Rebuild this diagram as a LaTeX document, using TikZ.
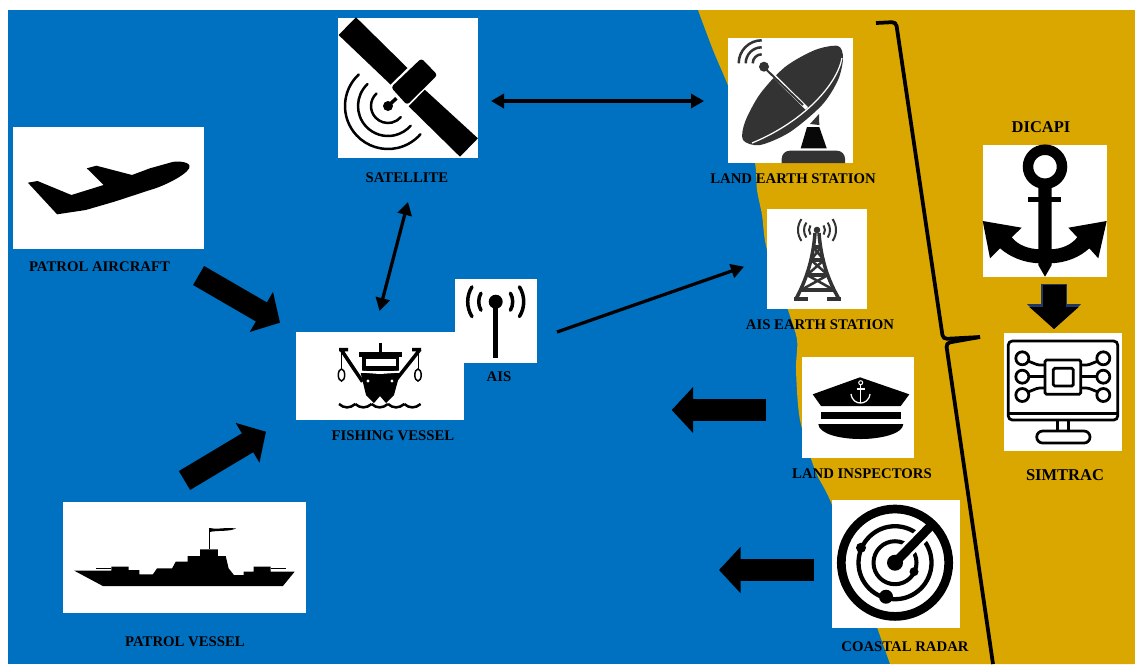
\documentclass[tikz,border=0pt]{standalone}
\usepackage{fontspec}
\setmainfont{Liberation Serif}
\usepackage{tikz}
\usetikzlibrary{calc,arrows.meta}
\definecolor{seablue}{HTML}{0070C0}
\definecolor{landgold}{HTML}{DAA700}
\definecolor{dishgray}{HTML}{333333}
\definecolor{arrownavy}{HTML}{1F3864}
\tikzset{
  iconbox/.style={fill=white,inner sep=0pt,outer sep=0pt,anchor=north west},
  tag/.style={font=\bfseries\fontsize{8.4}{10}\selectfont,inner sep=0pt},
  bigtag/.style={font=\bfseries\fontsize{9.4}{11}\selectfont,inner sep=0pt},
  bigarrow/.style={-{Triangle[length=0.43cm,width=0.9cm]},line width=0.44cm},
  thinarrow/.style={line width=0.065cm},
  brace/.style={line width=0.075cm,rounded corners=0.08cm},
  wave/.style={line width=0.05cm,line cap=round},
  towerline/.style={dishgray,line width=0.07cm},
  chipline/.style={line width=0.055cm,rounded corners=0.03cm}
}
\begin{document}
\begin{tikzpicture}[x=0.02cm,y=0.02cm,>={Triangle[length=0.26cm,width=0.28cm]}]
    \useasboundingbox (0,0) rectangle (1135,-664);
    % sea and land
    \fill[seablue] (7.5,-10) rectangle (1135,-664);
    \fill[landgold] plot[smooth] coordinates {(698,-10) (713,-50) (727,-83) (745,-130) (755,-163) (757,-190) (762,-215) (767,-250) (788,-310) (797,-340) (796,-370) (800,-420) (815,-470) (830,-500) (855,-565) (878,-630) (890,-664)} -- (1135,-664) -- (1135,-10) -- cycle;

    % boxes
    \node[iconbox,minimum width=2.8cm,minimum height=2.8cm] (satellite) at (338,-18) {};
    \node[iconbox,minimum width=3.82cm,minimum height=2.44cm] (aircraft) at (13,-127) {};
    \node[iconbox,minimum width=3.36cm,minimum height=1.76cm] (fishing) at (296,-332) {};
    \node[iconbox,minimum width=1.65cm,minimum height=1.68cm] (ais) at (455,-279) {};
    \node[iconbox,minimum width=4.86cm,minimum height=2.22cm] (patrol) at (63,-502) {};
    \node[iconbox,minimum width=2.5cm,minimum height=2.5cm] (landearth) at (728,-38) {};
    \node[iconbox,minimum width=2cm,minimum height=2cm] (aisearth) at (767,-209) {};
    \node[iconbox,minimum width=2.48cm,minimum height=2.64cm] (dicapi) at (983,-145) {};
    \node[iconbox,minimum width=2.36cm,minimum height=2.36cm] (simtrac) at (1004,-333) {};
    \node[iconbox,minimum width=2.24cm,minimum height=2.02cm] (inspectors) at (802,-357) {};
    \node[iconbox,minimum width=2.56cm,minimum height=2.56cm] (radar) at (832,-500) {};

    % labels
    \node[tag] (satellitetag) at (407,-178) {SATELLITE};
    \node[tag] (aircrafttag) at (99.5,-267) {PATROL AIRCRAFT};
    \node[tag] (fishingtag) at (393,-436) {FISHING VESSEL};
    \node[tag] (aistag) at (499,-377) {AIS};
    \node[tag] (patroltag) at (185,-642) {PATROL VESSEL};
    \node[tag] (landearthtag) at (793,-179) {LAND EARTH STATION};
    \node[tag] (aisearthtag) at (820,-325) {AIS EARTH STATION};
    \node[bigtag] (dicapitag) at (1041,-127) {DICAPI};
    \node[tag] (inspectorstag) at (862,-474) {LAND INSPECTORS};
    \node[bigtag] (simtractag) at (1065,-475) {SIMTRAC};
    \node[tag] (radartag) at (905,-647) {COASTAL RADAR};

    % satellite
    \fill (356,-17.3) -- (407.5,-68) -- (390.5,-84.5) -- (338.6,-35) -- cycle;
    \fill (424.8,-89.7) -- (477.9,-138.3) -- (460,-156.7) -- (408.7,-106.3) -- cycle;
    \fill[rounded corners=0.06cm] (421.4,-58.3) -- (437.5,-75) -- (407,-105) -- (391,-87.3) -- cycle;
    \draw[line width=0.07cm] (396.4,-98.3) -- (388,-106);
    \fill (388,-106) circle (5);
    \draw[wave] (388,-106)++(133:17) arc (133:319:17);
    \draw[wave] (388,-106)++(133:30) arc (133:319:30);
    \draw[wave] (388,-106)++(133:43) arc (133:319:43);

    % aircraft
    \fill (150,-190) .. controls (165,-186) and (192,-172) .. (189.5,-165.7) .. controls (188,-161) and (175,-161) .. (171.4,-162.3) -- (150,-168.3) -- (132,-175) -- (96.4,-165.7) -- (86.8,-168.3) -- (103.6,-185) -- (71.4,-195) -- (37.5,-181) -- (27.9,-182.7) -- (57.1,-214.3) -- (85.7,-210) -- (114.3,-201.7) -- cycle;

    % fishing vessel
    \fill (360.7,-373) -- (400,-373) -- (394,-395) -- (386,-403) -- (380,-396) -- (374,-403) -- (366,-395) -- cycle;
    \fill (379,-343) rectangle (382,-352);
    \fill (359,-352) rectangle (402,-357);
    \fill (362,-357) rectangle (399,-371);
    \fill[white] (366,-358.5) rectangle (396,-365.5);
    \draw[line width=0.04cm,white] (360,-371.5) -- (380,-373) -- (401,-371.5);
    \fill[white] (368,-381) circle (1.6);
    \fill[white] (392,-381) circle (1.6);
    \draw[line width=0.07cm] (348,-349.5) -- (339,-349.5) (341,-349.5) -- (362.5,-381.7);
    \draw[line width=0.07cm] (412,-349.5) -- (421,-349.5) (420,-349.5) -- (394.6,-381.7);
    \draw[line width=0.02cm] (341.5,-349) -- (341.5,-369) (418,-349) -- (418,-369);
    \draw[line width=0.03cm] (341.5,-375) ellipse (3.2 and 6);
    \draw[line width=0.03cm] (418,-375) ellipse (3.2 and 6);
    \foreach \x in {339,355.3,371.6,388,404.3}
        \draw[line width=0.05cm] (\x,-404) .. controls (\x+5,-408.5) and (\x+11,-408.5) .. (\x+16.3,-404);

    % ais mast
    \fill (495.7,-301.7) circle (7);
    \draw[line width=0.1cm] (495.7,-302) -- (495.7,-358);
    \draw[line width=0.07cm,line cap=round] (495.7,-301.7)++(150:17) arc (150:210:17);
    \draw[line width=0.07cm,line cap=round] (495.7,-301.7)++(30:17) arc (30:-30:17);
    \draw[line width=0.07cm,line cap=round] (495.7,-301.7)++(148:28) arc (148:212:28);
    \draw[line width=0.07cm,line cap=round] (495.7,-301.7)++(32:28) arc (32:-32:28);

    % patrol vessel
    \fill (74.3,-570.7) -- (111.4,-570.7) -- (111.4,-566.7) -- (128.6,-566.7) -- (128.6,-570) -- (139.3,-570) -- (139.3,-574.3) -- (152.9,-574.3) -- (157.1,-568.3) -- (172.1,-568.3) -- (175.7,-561.7) -- (187.5,-561.7) -- (187.5,-556) -- (200,-556) -- (200,-549.3) -- (217.9,-549.3) -- (217.9,-556) -- (225.7,-556) -- (228.6,-568.3) -- (233.9,-575) -- (243.6,-575) -- (243.6,-571.7) -- (253.6,-571.7) -- (253.6,-566.7) -- (270.7,-566.7) -- (270.7,-571.7) -- (294.6,-571.7) -- (282.9,-586) -- (102.9,-586) -- cycle;
    \draw[line width=0.02cm] (96.4,-568.3) -- (111.4,-568.3) (270.7,-568.3) -- (286,-568.3);
    \draw[line width=0.03cm] (209.6,-528) -- (209.6,-549);
    \fill (209.6,-528) .. controls (216,-530) and (224,-527) .. (236,-528.5) .. controls (228,-532) and (218,-530) .. (209.6,-532) -- cycle;

    % land earth station
    \fill[dishgray] plot[smooth cycle] coordinates {(838,-46) (815,-50) (785,-67) (760,-94) (745,-122) (743,-140) (760,-145) (790,-132) (822,-105) (838,-80) (843,-58)};
    \draw[white,line width=0.025cm] (842,-58) .. controls (837,-85) and (803,-122) .. (752,-143);
    \draw[white,line width=0.07cm] (771,-73) -- (806.7,-108.3);
    \draw[dishgray,line width=0.04cm] (763.3,-66.7) -- (803,-105);
    \fill[dishgray] (764,-66.7) circle (5);
    \draw[dishgray,line width=0.05cm] (761.7,-63.3)++(90:9) arc (90:180:9);
    \draw[dishgray,line width=0.05cm] (761.7,-63.3)++(90:16) arc (90:180:16);
    \draw[dishgray,line width=0.05cm] (761.7,-63.3)++(90:23) arc (90:180:23);
    \fill[dishgray] (810,-124) -- (819,-114) -- (819.3,-125) -- cycle;
    \fill[black!85!dishgray] (807,-127) -- (819.3,-127) -- (826.7,-148.3) -- (800.7,-148.3) -- cycle;
    \fill[dishgray] (781.7,-163) [rounded corners=0.16cm] -- (781.7,-150.7) -- (845,-150.7) [sharp corners] -- (845,-163) -- cycle;

    % ais earth station
    \draw[towerline] (815,-233) .. controls (813,-260) and (806,-280) .. (796,-299);
    \draw[towerline] (819,-233) .. controls (821,-260) and (828,-280) .. (839,-299);
    \draw[towerline] (813,-247) -- (821,-247) (811,-260) -- (824,-260) (807,-275) -- (828,-275) (801,-290) -- (834,-290);
    \draw[towerline,line width=0.05cm] (813,-247) -- (824,-260) (821,-247) -- (811,-260) (811,-260) -- (828,-275) (824,-260) -- (807,-275) (807,-275) -- (834,-290) (828,-275) -- (801,-290);
    \draw[towerline] (794,-299) -- (808,-299) (827,-299) -- (841,-299);
    \fill[dishgray] (817,-230) circle (3.3);
    \foreach \r in {8,13,19} {
        \draw[dishgray,line width=0.04cm] (817,-230)++(145:\r) arc (145:215:\r);
        \draw[dishgray,line width=0.04cm] (817,-230)++(35:\r) arc (35:-35:\r);
    }

    % dicapi anchor
    \draw[line width=0.21cm] (1045,-166.7) circle (17);
    \fill (1038.3,-185) -- (1051.7,-185) -- (1051.7,-265) -- (1045,-276.7) -- (1038.3,-265) -- cycle;
    \fill (1028,-196.7) rectangle (1061,-201.7);
    \fill (982.7,-221) -- (1021.7,-227.7) -- (1011.7,-237.3) .. controls (1018,-245) and (1028,-249) .. (1040,-249.3) -- (1040,-263.3) .. controls (1024,-263) and (1010,-257) .. (1000,-248.3) -- (990,-258.3) -- cycle;
    \fill (1106.7,-221) -- (1068.3,-227.7) -- (1077.3,-237.3) .. controls (1071,-245) and (1062,-249) .. (1050,-249.3) -- (1050,-263.3) .. controls (1066,-263) and (1080,-257) .. (1089.3,-248.3) -- (1098.3,-258.3) -- cycle;

    % simtrac monitor
    \draw[chipline,rounded corners=0.08cm] (1008.3,-341) rectangle (1117.7,-420);
    \draw[chipline] (1008.3,-413.3) -- (1117.7,-413.3);
    \draw[chipline] (1057.3,-420) -- (1057.3,-431) (1068.3,-420) -- (1068.3,-431);
    \draw[chipline,rounded corners=0.12cm] (1036.7,-431) rectangle (1090,-443);
    \draw[chipline] (1045,-360) rectangle (1080.7,-394.3);
    \draw[chipline] (1053.3,-368.3) rectangle (1073.3,-386);
    \foreach \y in {-358.3,-376.7,-395} {
        \draw[chipline] (1022.3,\y) circle (6.5);
        \draw[chipline] (1103.3,\y) circle (6.5);
    }
    \draw[chipline] (1028.8,-376.7) -- (1045,-376.7) (1080.7,-376.7) -- (1096.8,-376.7);
    \draw[chipline] (1028,-361) -- (1038,-365) -- (1045,-365) (1080.7,-365) -- (1088,-365) -- (1098,-361);
    \draw[chipline] (1028,-392) -- (1038,-388) -- (1045,-388) (1080.7,-388) -- (1088,-388) -- (1098,-392);

    % inspectors cap
    \fill (860,-377.3) -- (909.3,-394.3) -- (900.7,-406) -- (821,-406) -- (812.7,-394.3) -- cycle;
    \fill (820.7,-411.7) rectangle (900.7,-419.3);
    \fill (818.3,-424) -- (903.3,-424) .. controls (903,-434) and (880,-439) .. (860.8,-439) .. controls (840,-439) and (819,-434) .. (818.3,-424) -- cycle;
    \draw[white,line width=0.02cm] (860.7,-382.7) circle (2);
    \draw[white,line width=0.025cm] (860.7,-385) -- (860.7,-402.7) (856.5,-389) -- (865,-389);
    \draw[white,line width=0.025cm] (851,-394) .. controls (852,-401) and (857,-403) .. (860.7,-403) .. controls (864,-403) and (869,-401) .. (870,-394);

    % coastal radar
    \draw[line width=0.174cm] (895,-562.7) circle (53.7);
    \draw[line width=0.086cm] (895,-562.7) circle (36.5);
    \draw[line width=0.08cm] (895,-562.7) circle (21.5);
    \draw[white,line width=0.3cm] (905,-552) -- (926,-531);
    \draw[line width=0.18cm] (895,-562.7) -- (930,-526.7);
    \fill (895,-562.7) circle (8);
    \fill (861,-547.7) circle (5);
    \fill (914,-571.7) circle (4.5);
    \fill (886,-596.7) circle (7);

    % connectors
    \coordinate (satelliteend) at (491,-101);
    \coordinate (landearthend) at (704,-101);
    \draw[thinarrow,<->] (satelliteend) -- (landearthend);
    \coordinate (satellitefoot) at (408,-202);
    \coordinate (fishingtop) at (379.5,-311);
    \draw[thinarrow,<->] (satellitefoot) -- (fishingtop);
    \coordinate (aisout) at (557,-332);
    \coordinate (aisearthend) at (744,-266.7);
    \draw[thinarrow,->] (aisout) -- (aisearthend);

    \coordinate (aircraftout) at (198.6,-275.5);
    \coordinate (fishingleft) at (280,-322.7);
    \draw[bigarrow] (aircraftout) -- (fishingleft);
    \coordinate (patrolout) at (184.5,-480.5);
    \coordinate (fishingfoot) at (266,-431.7);
    \draw[bigarrow] (patrolout) -- (fishingfoot);
    \coordinate (inspectorsout) at (766,-410);
    \coordinate (inspectorsend) at (671.7,-410);
    \draw[bigarrow] (inspectorsout) -- (inspectorsend);
    \coordinate (radarout) at (814,-570);
    \coordinate (radarend) at (719,-570);
    \draw[bigarrow] (radarout) -- (radarend);
    \coordinate (dicapiout) at (1054,-284);
    \coordinate (simtracin) at (1054,-329);
    \draw[arrownavy,-{Triangle[length=0.5cm,width=1.06cm]},line width=0.52cm] (dicapiout) -- (simtracin);
    \draw[-{Triangle[length=0.44cm,width=0.96cm]},line width=0.46cm] (1054,-284.5) -- (simtracin);

    % bracket
    \draw[brace] (876,-23) -- (896,-22) -- (943,-339) -- (980,-337);
    \draw[brace] (980,-337) -- (946,-343) -- (993,-664);
\end{tikzpicture}
\end{document}
